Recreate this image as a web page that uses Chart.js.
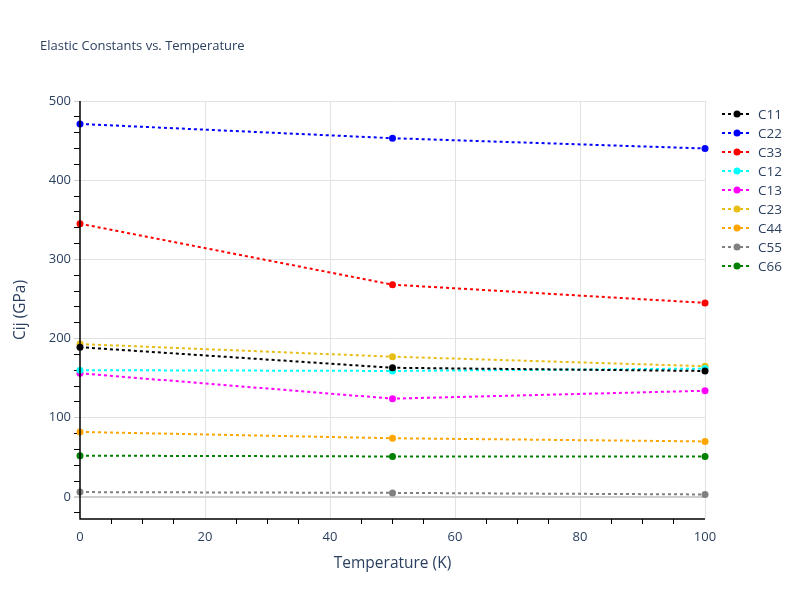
<!DOCTYPE html>
<html>
<head>
<meta charset="utf-8">
<script src="https://cdn.jsdelivr.net/npm/chart.js@4.4.0/dist/chart.umd.min.js"></script>
<style>
html,body{margin:0;padding:0;background:#fff;}
#wrap{width:800px;height:600px;position:relative;}
</style>
</head>
<body>
<div id="wrap"><canvas id="c" width="800" height="600"></canvas></div>
<script>
const temperatures = [0, 50, 100];
const seriesNames = ["C11", "C22", "C33", "C12", "C13", "C23", "C44", "C55", "C66"];
const C11 = [189, 163, 159];
const C22 = [471, 453, 440];
const C33 = [345, 268, 245];
const C12 = [160, 159, 162];
const C13 = [156, 124, 134];
const C23 = [193, 177, 165];
const C44 = [82, 74, 70];
const C55 = [6, 5, 3];
const C66 = [52, 51, 51];
const seriesValues = [C11, C22, C33, C12, C13, C23, C44, C55, C66];
const seriesColors = ["#000000", "#0000ff", "#ff0000", "#00ffff", "#ff00ff", "#e8bd16", "#ffa500", "#808080", "#008000"];
const titleText = "Elastic Constants vs. Temperature";
const xTitle = "Temperature (K)";
const yTitle = "Cij (GPa)";

const FONT = '"Open Sans", verdana, arial, sans-serif';
const TXT = '#2a3f5f';

const datasets = seriesNames.map((n, i) => ({
  label: n,
  data: temperatures.map((t, k) => ({x: t, y: seriesValues[i][k]})),
  borderColor: seriesColors[i],
  backgroundColor: seriesColors[i],
  pointBackgroundColor: seriesColors[i],
  borderWidth: 2,
  borderDash: [3, 3],
  pointRadius: 3.5,
  pointBorderWidth: 0,
  pointHoverRadius: 3.5,
  tension: 0,
  fill: false,
  clip: false
}));

const overlay = {
  id: 'overlay',
  afterDraw(chart) {
    const ctx = chart.ctx;
    ctx.save();
    ctx.fillStyle = TXT;
    ctx.font = '13px ' + FONT;
    ctx.textBaseline = 'middle';
    ctx.textAlign = 'left';
    ctx.fillText(titleText, 40, 46);
    // legend
    const x0 = 722, y0 = 114, dy = 19;
    seriesNames.forEach((n, i) => {
      const y = y0 + i * dy;
      ctx.strokeStyle = seriesColors[i];
      ctx.lineWidth = 2;
      ctx.setLineDash([3, 3]);
      ctx.beginPath();
      ctx.moveTo(x0, y);
      ctx.lineTo(x0 + 30, y);
      ctx.stroke();
      ctx.setLineDash([]);
      ctx.fillStyle = seriesColors[i];
      ctx.beginPath();
      ctx.arc(x0 + 15, y, 3.5, 0, Math.PI * 2);
      ctx.fill();
      ctx.fillStyle = TXT;
      ctx.font = '13.5px ' + FONT;
      ctx.fillText(n, x0 + 36, y + 1);
    });
    // axis lines
    const a = chart.chartArea;
    ctx.strokeStyle = '#000';
    ctx.lineWidth = 1.5;
    ctx.beginPath();
    ctx.moveTo(a.left, a.top);
    ctx.lineTo(a.left, a.bottom);
    ctx.lineTo(a.right, a.bottom);
    ctx.stroke();
    ctx.restore();
  }
};

new Chart(document.getElementById('c'), {
  type: 'line',
  data: {datasets},
  options: {
    responsive: false,
    animation: false,
    events: [],
    layout: {padding: {left: 0, right: 95, top: 101, bottom: 0}},
    plugins: {legend: {display: false}, title: {display: false}, tooltip: {enabled: false}},
    scales: {
      x: {
        type: 'linear',
        min: 0, max: 100,
        border: {display: false},
        afterFit(s) { s.height = 81; },
        grid: {
          drawTicks: true,
          tickLength: 5,
          color: c => (c.tick && c.tick.value % 20 === 0 && c.tick.value !== 0) ? '#e2e2e2' : 'rgba(0,0,0,0)',
          tickColor: c => (c.tick && c.tick.value % 20 === 0) ? 'rgba(0,0,0,0)' : '#000',
          lineWidth: 1
        },
        ticks: {
          stepSize: 5,
          autoSkip: false,
          maxRotation: 0,
          padding: 5,
          color: TXT,
          font: {family: FONT, size: 13},
          callback: v => (v % 20 === 0 ? String(v) : '')
        },
        title: {display: true, text: xTitle, color: TXT, font: {family: FONT, size: 15.5}, padding: {top: 0, bottom: 27}}
      },
      y: {
        type: 'linear',
        min: -28, max: 500,
        border: {display: false},
        afterFit(s) { s.width = 80; },
        grid: {
          drawTicks: true,
          tickLength: 6,
          color: c => {
            if (!c.tick) return 'rgba(0,0,0,0)';
            if (c.tick.value === 0) return '#cfcfcf';
            return c.tick.value % 100 === 0 ? '#e2e2e2' : 'rgba(0,0,0,0)';
          },
          lineWidth: c => (c.tick && c.tick.value === 0) ? 2 : 1,
          tickColor: c => (c.tick && c.tick.value % 100 === 0) ? '#cfcfcf' : '#000'
        },
        ticks: {
          stepSize: 20,
          includeBounds: false,
          autoSkip: false,
          padding: 3,
          color: TXT,
          font: {family: FONT, size: 13},
          callback: v => (v % 100 === 0 ? String(v) : '')
        },
        title: {display: true, text: yTitle, color: TXT, font: {family: FONT, size: 15.5}, padding: {top: 11, bottom: 0}}
      }
    }
  },
  plugins: [overlay]
});
</script>
</body>
</html>
